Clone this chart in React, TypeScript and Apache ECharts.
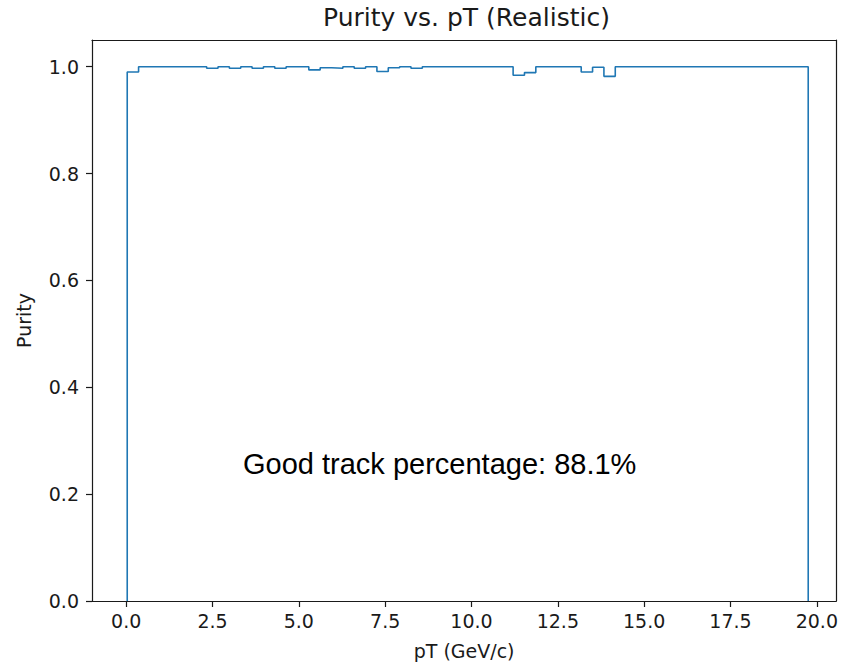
import React, { useEffect, useRef } from "react";
import * as echarts from "echarts";

// Histogram binning (pT, GeV/c)
const BIN_START = 0.03;
const BIN_END = 19.75;
// Purity per bin (60 bins)
const purity: number[] = [
  0.990, 1.0, 1.0, 1.0, 1.0, 1.0, 1.0, 0.997, 1.0, 0.997,
  1.0, 0.997, 1.0, 0.997, 1.0, 1.0, 0.994, 0.998, 0.997, 1.0,
  0.997, 1.0, 0.991, 0.998, 1.0, 0.997, 1.0, 1.0, 1.0, 1.0,
  1.0, 1.0, 1.0, 1.0, 0.984, 0.989, 1.0, 1.0, 1.0, 1.0,
  0.990, 0.999, 0.982, 1.0, 1.0, 1.0, 1.0, 1.0, 1.0, 1.0,
  1.0, 1.0, 1.0, 1.0, 1.0, 1.0, 1.0, 1.0, 1.0, 1.0,
];
const xTicks = [0, 2.5, 5, 7.5, 10, 12.5, 15, 17.5, 20];
const yTicks = [0, 0.2, 0.4, 0.6, 0.8, 1.0];
const TITLE = "Purity vs. pT (Realistic)";
const X_LABEL = "pT (GeV/c)";
const Y_LABEL = "Purity";
const ANNOTATION = "Good track percentage: 88.1%";

export default function App() {
  const ref = useRef<HTMLDivElement>(null);
  useEffect(() => {
    if (!ref.current) return;
    const chart = echarts.init(ref.current, undefined, { renderer: "svg" });
    const n = purity.length;
    const w = (BIN_END - BIN_START) / n;
    const pts: number[][] = [[BIN_START, 0]];
    purity.forEach((v, i) => {
      pts.push([BIN_START + i * w, v]);
      pts.push([BIN_START + (i + 1) * w, v]);
    });
    pts.push([BIN_END, 0]);

    const font = "DejaVu Sans";
    const axisColor = "#1a1a1a";
    chart.setOption({
      animation: false,
      title: {
        text: TITLE,
        left: 318,
        top: 0,
        textStyle: { fontFamily: font, fontSize: 25, fontWeight: "normal", color: "#1a1a1a" },
      },
      grid: { left: 92, right: 4, top: 40, bottom: 64, containLabel: false },
      xAxis: [
        {
          type: "value",
          min: -0.99,
          max: 20.56,
          axisLine: { show: true, onZero: false, lineStyle: { color: axisColor, width: 1.2 } },
          axisTick: { show: true, length: 6, customValues: xTicks, lineStyle: { color: axisColor, width: 1.2 } },
          axisLabel: {
            customValues: xTicks,
            formatter: (v: number) => v.toFixed(1),
            fontFamily: font,
            fontSize: 19,
            color: "#1a1a1a",
            margin: 10,
          },
          splitLine: { show: false },
          name: X_LABEL,
          nameLocation: "middle",
          nameGap: 40,
          nameTextStyle: { fontFamily: font, fontSize: 19, color: "#1a1a1a" },
        },
        {
          type: "value",
          position: "top",
          min: -0.99,
          max: 20.56,
          axisLine: { show: true, onZero: false, lineStyle: { color: axisColor, width: 1.2 } },
          axisTick: { show: false },
          axisLabel: { show: false },
          splitLine: { show: false },
        },
      ],
      yAxis: [
        {
          type: "value",
          min: 0,
          max: 1.05,
          axisLine: { show: true, onZero: false, lineStyle: { color: axisColor, width: 1.2 } },
          axisTick: { show: true, length: 6, customValues: yTicks, lineStyle: { color: axisColor, width: 1.2 } },
          axisLabel: {
            customValues: yTicks,
            formatter: (v: number) => v.toFixed(1),
            fontFamily: font,
            fontSize: 19,
            color: "#1a1a1a",
            margin: 13,
          },
          splitLine: { show: false },
          name: Y_LABEL,
          nameLocation: "middle",
          nameGap: 59,
          nameTextStyle: { fontFamily: font, fontSize: 19, color: "#1a1a1a" },
        },
        {
          type: "value",
          position: "right",
          min: 0,
          max: 1.05,
          axisLine: { show: true, onZero: false, lineStyle: { color: axisColor, width: 1.2 } },
          axisTick: { show: false },
          axisLabel: { show: false },
          splitLine: { show: false },
        },
      ],
      series: [
        {
          type: "line",
          data: pts,
          xAxisIndex: 0,
          yAxisIndex: 0,
          showSymbol: false,
          symbol: "none",
          lineStyle: { color: "#1f77b4", width: 1.6 },
          clip: false,
        },
      ],
      graphic: [
        {
          type: "text",
          left: 243,
          top: 449,
          style: {
            text: ANNOTATION,
            fontFamily: "Liberation Sans",
            fontSize: 29,
            fill: "#000",
          },
        },
      ],
    });
    return () => chart.dispose();
  }, []);
  return (
    <div
      ref={ref}
      style={{ position: "absolute", left: 0, top: 0, width: 841, height: 665, background: "#fff" }}
    />
  );
}
